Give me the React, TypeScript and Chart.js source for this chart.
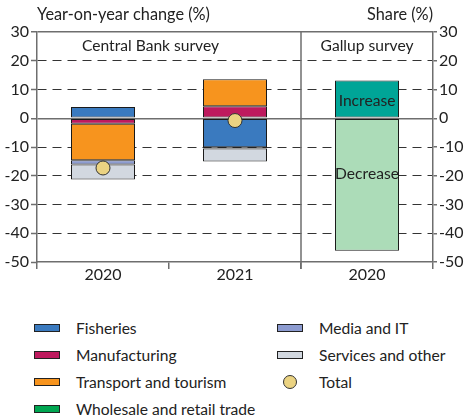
import React, { useEffect, useRef } from 'react';
import { Chart, registerables } from 'chart.js';

Chart.register(...registerables);

const categories = ['2020', '2021', '2020'];
const fisheries = [3.9, -10.1, null];
const manufacturing = [-1.9, 4.2, null];
const transport = [-12.7, 9.4, null];
const wholesale = [null, -0.4, null];
const mediaIT = [-1.5, null, null];
const services = [-5.2, -4.5, null];
const increase = [null, null, 13.1];
const decrease = [null, null, -46.1];
const total = [-17.3, -0.8, null];

const yMin = -50;
const yMax = 30;
const yStep = 10;

const FONT = 'Lato';
const TEXT = '#222222';
const AXIS = '#6e6e6e';

const legendLeft = [
  { label: 'Fisheries', color: '#3a7abf' },
  { label: 'Manufacturing', color: '#be1a5e' },
  { label: 'Transport and tourism', color: '#f7941e' },
  { label: 'Wholesale and retail trade', color: '#00a651' },
];
const legendRight = [
  { label: 'Media and IT', color: '#8c9bd0' },
  { label: 'Services and other', color: '#d2d8e0' },
  { label: 'Total', color: '#ebd382', circle: true },
];

const overlay = {
  id: 'overlay',
  afterDatasetsDraw(chart: any) {
    const { ctx, chartArea, scales } = chart;
    const x = scales.x;
    const y = scales.y;
    ctx.save();
    const sx = (x.getPixelForValue(1) + x.getPixelForValue(2)) / 2;
    ctx.strokeStyle = AXIS;
    ctx.lineWidth = 1.5;
    ctx.beginPath();
    ctx.moveTo(sx, chartArea.top);
    ctx.lineTo(sx, chartArea.bottom + 7);
    ctx.stroke();

    ctx.fillStyle = TEXT;
    ctx.font = `15.6px ${FONT}`;
    ctx.textBaseline = 'middle';
    ctx.textAlign = 'center';
    ctx.fillText('Central Bank survey', x.getPixelForValue(0.36), y.getPixelForValue(25));
    ctx.fillText('Gallup survey', x.getPixelForValue(2), y.getPixelForValue(25));
    ctx.fillText('Increase', x.getPixelForValue(2), y.getPixelForValue(5.9));
    ctx.fillText('Decrease', x.getPixelForValue(2), y.getPixelForValue(-19.3));

    ctx.font = `16.3px ${FONT}`;
    ctx.textAlign = 'left';
    ctx.fillText('Year-on-year change (%)', chartArea.left, chartArea.top - 17);
    ctx.textAlign = 'right';
    ctx.fillText('Share (%)', chartArea.right, chartArea.top - 17);
    ctx.restore();
  },
};

const isSolid = (v: number) => v === 0 || v === yMax;

export default function App() {
  const ref = useRef<HTMLCanvasElement | null>(null);

  useEffect(() => {
    if (!ref.current) return;
    const barBase = { borderColor: '#1a1a1a', borderWidth: 1, borderSkipped: false, stack: 's', barPercentage: 0.485, categoryPercentage: 1, order: 1 };
    const chart = new Chart(ref.current, {
      type: 'bar',
      data: {
        labels: categories,
        datasets: [
          { ...barBase, label: 'Fisheries', data: fisheries, backgroundColor: '#3a7abf' },
          { ...barBase, label: 'Manufacturing', data: manufacturing, backgroundColor: '#be1a5e' },
          { ...barBase, label: 'Transport and tourism', data: transport, backgroundColor: '#f7941e' },
          { ...barBase, label: 'Wholesale and retail trade', data: wholesale, backgroundColor: '#00a651' },
          { ...barBase, label: 'Media and IT', data: mediaIT, backgroundColor: '#8c9bd0' },
          { ...barBase, label: 'Services and other', data: services, backgroundColor: '#d2d8e0' },
          { ...barBase, label: 'Increase', data: increase, backgroundColor: '#00a597' },
          { ...barBase, label: 'Decrease', data: decrease, backgroundColor: '#acdcb8' },
          {
            type: 'line',
            label: 'Total',
            data: total,
            stack: 'total',
            showLine: false,
            pointRadius: 7,
            pointHoverRadius: 7,
            pointBackgroundColor: '#ebd382',
            pointBorderColor: '#333333',
            pointBorderWidth: 1,
            order: 0,
          } as any,
        ],
      },
      options: {
        animation: false,
        responsive: false,
        maintainAspectRatio: false,
        layout: { padding: { top: 32, left: 0, right: 0, bottom: 0 } },
        plugins: { legend: { display: false }, tooltip: { enabled: false }, title: { display: false } },
        scales: {
          x: {
            stacked: true,
            grid: { offset: true, drawOnChartArea: false, color: AXIS, lineWidth: 1.5, tickLength: 7 },
            border: { color: AXIS, width: 1.5 },
            ticks: { color: TEXT, font: { family: FONT, size: 16 }, padding: -4 },
            afterFit: (s: any) => { s.height = 38; },
          },
          y: {
            stacked: true,
            position: 'left',
            min: yMin,
            max: yMax,
            ticks: { stepSize: yStep, color: TEXT, font: { family: FONT, size: 16 }, padding: 2 },
            grid: {
              color: (c: any) => (c.tick && c.tick.value === yMin ? 'rgba(0,0,0,0)' : isSolid(c.tick?.value) ? AXIS : '#333333'),
              lineWidth: (c: any) => (c.tick && isSolid(c.tick.value) ? 1.5 : 1),
              tickColor: AXIS,
              tickWidth: 1.5,
              tickLength: 6,
            },
            border: {
              color: AXIS,
              width: 1.5,
              dash: (c: any) => (c.tick && isSolid(c.tick.value) ? [] : [9, 6]),
            },
            afterFit: (s: any) => { s.width = 37; },
          },
          y2: {
            position: 'right',
            min: yMin,
            max: yMax,
            ticks: { stepSize: yStep, color: TEXT, font: { family: FONT, size: 16 }, padding: 2 },
            grid: { drawOnChartArea: false, color: AXIS, lineWidth: 1.5, tickLength: 4 },
            border: { color: AXIS, width: 1.5 },
            afterFit: (s: any) => { s.width = 31; },
          },
        },
      } as any,
      plugins: [overlay],
    });
    return () => chart.destroy();
  }, []);

  const rowTop = 319;
  const rowGap = 27;
  const itemStyle = (col: number, row: number): React.CSSProperties => ({
    position: 'absolute',
    left: col === 0 ? 34 : 277,
    top: rowTop + row * rowGap,
    height: 18,
    display: 'flex',
    alignItems: 'center',
    font: `15.6px ${FONT}`,
    color: TEXT,
    whiteSpace: 'nowrap',
  });
  const swatch = (color: string, circle?: boolean): React.CSSProperties =>
    circle
      ? { width: 14, height: 14, borderRadius: '50%', background: color, border: '1px solid #333', boxSizing: 'border-box', marginLeft: 6, marginRight: 22 }
      : { width: 26, height: 8, background: color, border: '1px solid #222', boxSizing: 'border-box', marginRight: 16 };

  return (
    <div style={{ position: 'absolute', left: 0, top: 0, width: 464, height: 416, background: '#fff' }}>
      <canvas ref={ref} width={464} height={300} style={{ display: 'block', width: 464, height: 300 }} />
      {legendLeft.map((it, i) => (
        <div key={it.label} style={itemStyle(0, i)}>
          <span style={swatch(it.color)} />
          <span>{it.label}</span>
        </div>
      ))}
      {legendRight.map((it, i) => (
        <div key={it.label} style={itemStyle(1, i)}>
          <span style={swatch(it.color, it.circle)} />
          <span>{it.label}</span>
        </div>
      ))}
    </div>
  );
}
